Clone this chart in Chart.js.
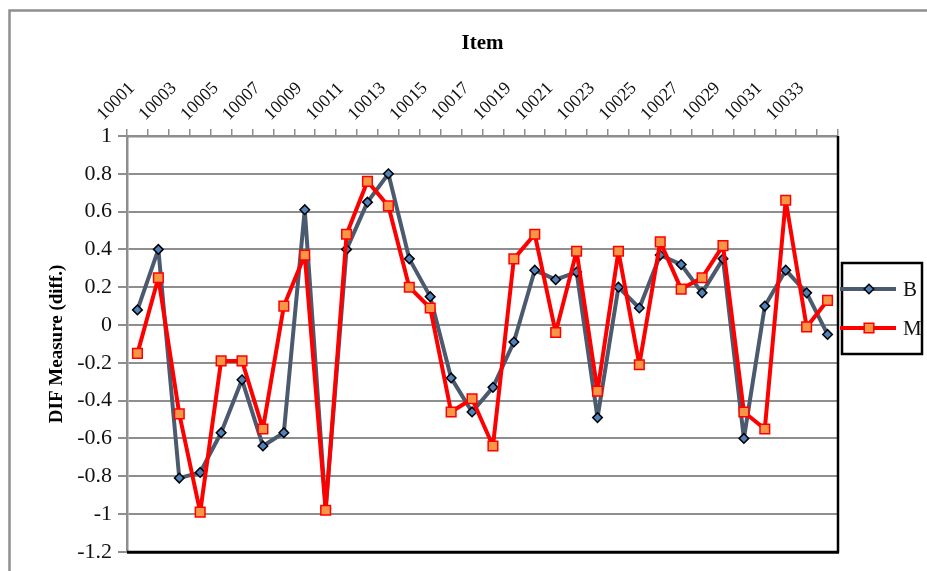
<!DOCTYPE html>
<html>
<head>
<meta charset="utf-8">
<script src="https://cdn.jsdelivr.net/npm/chart.js"></script>
<style>
  html, body { margin: 0; padding: 0; background: #fff; }
  #wrap { width: 927px; height: 571px; position: relative; }
</style>
</head>
<body>
<div id="wrap"><canvas id="dif-chart" width="927" height="571"></canvas></div>
<script>
const items = ['10001', '10002', '10003', '10004', '10005', '10006', '10007', '10008', '10009', '10010',
  '10011', '10012', '10013', '10014', '10015', '10016', '10017', '10018', '10019', '10020',
  '10021', '10022', '10023', '10024', '10025', '10026', '10027', '10028', '10029', '10030',
  '10031', '10032', '10033', '10034'];

const seriesB = [0.08, 0.40, -0.81, -0.78, -0.57, -0.29, -0.64, -0.57, 0.61, -0.97,
  0.40, 0.65, 0.80, 0.35, 0.15, -0.28, -0.46, -0.33, -0.09, 0.29,
  0.24, 0.28, -0.49, 0.20, 0.09, 0.37, 0.32, 0.17, 0.35, -0.60,
  0.10, 0.29, 0.17, -0.05];

const seriesM = [-0.15, 0.25, -0.47, -0.99, -0.19, -0.19, -0.55, 0.10, 0.37, -0.98,
  0.48, 0.76, 0.63, 0.20, 0.09, -0.46, -0.39, -0.64, 0.35, 0.48,
  -0.04, 0.39, -0.35, 0.39, -0.21, 0.44, 0.19, 0.25, 0.42, -0.46,
  -0.55, 0.66, -0.01, 0.13];

const yRange = [-1.2, 1];
const yStep = 0.2;

const serif = "'Liberation Serif', 'Times New Roman', serif";
const axisGray = '#8e8e8e';

// gray frame round the whole picture, open to the right and bottom
const outerFrame = {
  id: 'outerFrame',
  beforeDraw(chart) {
    const ctx = chart.ctx;
    ctx.save();
    ctx.strokeStyle = '#8f8f8f';
    ctx.lineWidth = 2.5;
    ctx.strokeRect(9.5, 10.5, chart.width + 20, chart.height + 20);
    ctx.restore();
  }
};

// black right and bottom edges of the plot area
const plotEdges = {
  id: 'plotEdges',
  beforeDatasetsDraw(chart) {
    const {ctx, chartArea: a} = chart;
    ctx.save();
    ctx.strokeStyle = '#000';
    ctx.lineWidth = 3;
    ctx.beginPath();
    ctx.moveTo(a.left, a.bottom + 0.5);
    ctx.lineTo(a.right + 1, a.bottom + 0.5);
    ctx.stroke();
    ctx.lineWidth = 2.5;
    ctx.beginPath();
    ctx.moveTo(a.right, a.top);
    ctx.lineTo(a.right, a.bottom + 1);
    ctx.stroke();
    ctx.restore();
  }
};

// legend in a black box, line + marker like the office chart
const boxedLegend = {
  id: 'boxedLegend',
  afterDraw(chart) {
    const {ctx, chartArea: a} = chart;
    const left = a.right + 4;
    const top = a.top + 127;
    ctx.save();
    ctx.strokeStyle = '#000';
    ctx.lineWidth = 2.5;
    ctx.strokeRect(left, top, 80, 91);

    chart.data.datasets.forEach((ds, i) => {
      const y = top + 26 + i * 39;
      ctx.strokeStyle = ds.borderColor;
      ctx.lineWidth = ds.borderWidth;
      ctx.beginPath();
      ctx.moveTo(left - 2, y);
      ctx.lineTo(left + 54, y);
      ctx.stroke();

      ctx.fillStyle = ds.pointBackgroundColor;
      ctx.strokeStyle = ds.pointBorderColor;
      ctx.lineWidth = ds.pointBorderWidth;
      Chart.helpers.drawPoint(ctx, {
        pointStyle: ds.pointStyle,
        radius: ds.pointRadius,
        rotation: 0,
        borderWidth: ds.pointBorderWidth
      }, left + 27, y);

      ctx.fillStyle = '#111';
      ctx.font = '21px ' + serif;
      ctx.textAlign = 'left';
      ctx.textBaseline = 'middle';
      ctx.fillText(ds.label, left + 61, y + 1);
    });
    ctx.restore();
  }
};

new Chart(document.getElementById('dif-chart').getContext('2d'), {
  type: 'line',
  data: {
    labels: items,
    datasets: [
      {
        label: 'B',
        data: seriesB,
        order: 1,
        borderColor: '#4b5a6e',
        borderWidth: 4,
        borderJoinStyle: 'round',
        tension: 0,
        pointStyle: 'rectRot',
        pointRadius: 4.8,
        pointBackgroundColor: '#4f81bd',
        pointBorderColor: '#000',
        pointBorderWidth: 1.5
      },
      {
        label: 'M',
        data: seriesM,
        order: 0,
        borderColor: '#ff0000',
        borderWidth: 4,
        borderJoinStyle: 'round',
        tension: 0,
        pointStyle: 'rect',
        pointRadius: 6.8,
        pointBackgroundColor: '#f79646',
        pointBorderColor: '#ff0000',
        pointBorderWidth: 1.5
      }
    ]
  },
  options: {
    responsive: false,
    animation: false,
    layout: {
      padding: {left: 0, top: 0, right: 89, bottom: 19}
    },
    scales: {
      x: {
        position: 'top',
        offset: true,
        grid: {
          offset: true,
          drawOnChartArea: false,
          drawTicks: true,
          tickLength: 7,
          color: axisGray,
          lineWidth: 1.5
        },
        border: {color: axisGray, width: 2.5},
        ticks: {
          autoSkip: false,
          minRotation: 45,
          maxRotation: 45,
          padding: 4,
          labelOffset: -22,
          color: '#111',
          font: {family: serif, size: 18},
          callback: (value, index) => index % 2 === 0 ? items[index] : ''
        },
        title: {
          display: true,
          text: 'Item',
          color: '#000',
          font: {family: serif, size: 21, weight: 'bold'},
          padding: {top: 31, bottom: 0}
        },
        afterFit: scale => { scale.height = 136; }
      },
      y: {
        min: yRange[0],
        max: yRange[1],
        grid: {
          color: axisGray,
          lineWidth: 2,
          drawTicks: true,
          tickLength: 9
        },
        border: {color: axisGray, width: 2.5},
        ticks: {
          stepSize: yStep,
          padding: 6,
          color: '#111',
          font: {family: serif, size: 22},
          callback: value => String(Math.round(value * 10) / 10)
        },
        title: {
          display: true,
          text: 'DIF Measure (diff.)',
          color: '#000',
          font: {family: serif, size: 19, weight: 'bold'},
          padding: {top: 46, bottom: 0}
        },
        afterFit: scale => { scale.width = 127; }
      }
    },
    plugins: {
      legend: {display: false},
      tooltip: {enabled: false}
    }
  },
  plugins: [outerFrame, plotEdges, boxedLegend]
});
</script>
</body>
</html>
